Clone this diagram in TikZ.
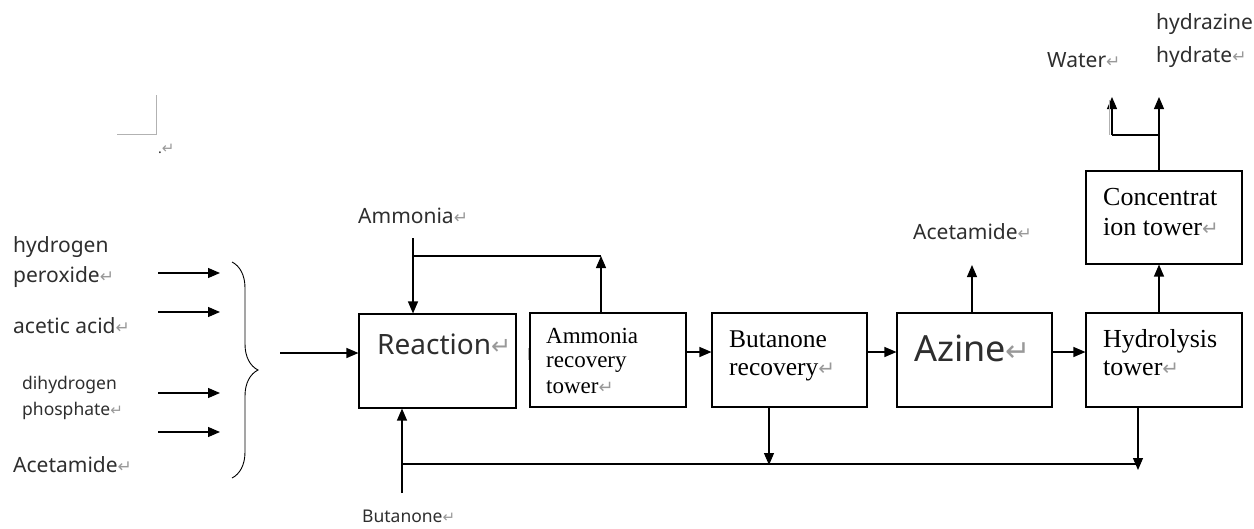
\documentclass[tikz,border=0pt]{standalone}
\usepackage{fontspec}
\usetikzlibrary{arrows.meta,decorations.pathreplacing}
\setmainfont{Noto Sans}
\newfontfamily\serf{Liberation Serif}
\newfontfamily\retfont{DejaVu Sans}
\definecolor{retgray}{gray}{0.6}
\definecolor{txt}{gray}{0.18}
\newcommand\rtn[1]{{\retfont\fontsize{#1}{#1}\selectfont\textcolor{retgray}{↵}}}
\newcommand\fsz[1]{\fontsize{#1}{#1}\selectfont}
\begin{document}
\begin{tikzpicture}[x=1pt,y=-1pt,
  box/.style={draw, line width=1.1pt, inner sep=0pt},
  arr/.style={line width=1.2pt, -{Triangle[length=12pt,width=10pt]}},
  ln/.style={line width=1.2pt},
  lab/.style={anchor=base west, inner sep=0pt, text=txt},
  sans/.style={lab, font=\fsz{21}},
  small/.style={lab, font=\fsz{17.5}},
  serif/.style={lab, text=black, font=\serf\fsz{25.5}},
  graymark/.style={gray!60, line width=0.8pt}]
\useasboundingbox (0,0) rectangle (1254,528);

% boxes
\node[box, minimum width=157pt, minimum height=94pt] (reac) at (437.5,361) {};
\node[box, minimum width=156pt, minimum height=94pt] (amm) at (608,360) {};
\node[box, minimum width=155pt, minimum height=94pt] (but) at (789.5,360) {};
\node[box, minimum width=155pt, minimum height=94pt] (azi) at (974.5,360) {};
\node[box, minimum width=156pt, minimum height=94pt] (hyd) at (1164,360) {};
\node[box, minimum width=156pt, minimum height=93pt] (con) at (1164,217.5) {};

% box texts
\node[lab, font=\fsz{28}] (treac) at (377,354) {Reaction\rtn{24}};
\node[serif, font=\serf\fsz{23}] (tamm1) at (546,343) {Ammonia};
\node[serif, font=\serf\fsz{23}] (tamm2) at (546,367) {recovery};
\node[serif, font=\serf\fsz{23}] (tamm3) at (546,393) {tower\rtn{18}};
\node[serif] (tbut1) at (729,347) {Butanone};
\node[serif] (tbut2) at (729,375) {recovery\rtn{20}};
\node[lab, font=\fsz{36}] (tazi) at (914,361) {Azine\rtn{30}};
\node[serif, font=\serf\fsz{26}] (thyd1) at (1103,347) {Hydrolysis};
\node[serif, font=\serf\fsz{26}] (thyd2) at (1103,375) {tower\rtn{20}};
\node[serif, font=\serf\fsz{26}] (tcon1) at (1103,205) {Concentrat};
\node[serif, font=\serf\fsz{26}] (tcon2) at (1103,235) {ion tower\rtn{20}};

% outside labels
\node[sans] (l1) at (13,252) {hydrogen};
\node[sans] (l2) at (13,282) {peroxide\rtn{17}};
\node[sans] (l3) at (13,333) {acetic acid\rtn{17}};
\node[small] (l4) at (22,389) {dihydrogen};
\node[small] (l5) at (22,415) {phosphate\rtn{15}};
\node[sans] (l6) at (13,472) {Acetamide\rtn{17}};
\node[sans] (lamm) at (358,223) {Ammonia\rtn{17}};
\node[sans] (lacet) at (913,239) {Acetamide\rtn{17}};
\node[sans] (lwat) at (1047,67) {Water\rtn{17}};
\node[sans] (lhz1) at (1156,29) {hydrazine};
\node[sans] (lhz2) at (1156,62) {hydrate\rtn{17}};
\node[small] (lbut) at (362,522) {Butanone\rtn{15}};
\node[lab, font=\fsz{14}] (ldot) at (158,153) {.\rtn{15}};

% page-corner mark and stray marks
\draw[graymark] (117,134) -- (156,134) -- (156,95);
\draw[graymark, line width=1pt] (528,348) -- (528,360);

% feed arrows and brace
\foreach \y/\n in {273/a,312/b,393/c,432/d}{
  \coordinate (fs\n) at (158,\y);
  \coordinate (fe\n) at (220,\y);
  \draw[arr] (fs\n) -- (fe\n);
}
\draw[line width=0.9pt, decorate, decoration={brace, amplitude=26pt}] (232,262) -- (232,478);
\coordinate (mix) at (280,353);
\draw[arr] (mix) -- (reac.west |- mix);

% ammonia
\coordinate (ammsrc) at (413,238);
\draw[arr] (ammsrc) -- (reac.north -| ammsrc);
\coordinate (ammj) at (413,256);
\coordinate (ammr) at (601,256);
\draw[ln] (ammj) -- (ammr);
\draw[arr] (amm.north -| ammr) -- (ammr);

% main row
\coordinate (row) at (0,352);
\draw[arr] (amm.east |- row) -- (but.west |- row);
\draw[arr] (but.east |- row) -- (azi.west |- row);
\draw[arr] (azi.east |- row) -- (hyd.west |- row);

% acetamide out
\coordinate (acet) at (972,265);
\draw[arr] (azi.north -| acet) -- (acet);

% hydrolysis -> concentration -> products
\coordinate (vx) at (1159,135);
\draw[arr] (hyd.north -| vx) -- (con.south -| vx);
\draw[ln] (con.north -| vx) -- (vx);
\coordinate (wx) at (1112,135);
\draw[ln] (vx) -- (wx);
\coordinate (hh) at (1159,97);
\coordinate (ww) at (1112,97);
\draw[arr] (vx) -- (hh);
\draw[arr] (wx) -- (ww);
\draw[graymark] (1109.2,100) -- (1109.2,135);

% butanone recycle
\coordinate (bsrc) at (402,493);
\draw[arr] (bsrc) -- (reac.south -| bsrc);
\coordinate (bj) at (402,464);
\coordinate (bend) at (1138,464);
\draw[ln] (bj) -- (bend);
\coordinate (bt) at (769,465);
\draw[arr] (but.south -| bt) -- (bt);
\coordinate (ht) at (1138,470);
\draw[arr] (hyd.south -| ht) -- (ht);
\end{tikzpicture}
\end{document}
